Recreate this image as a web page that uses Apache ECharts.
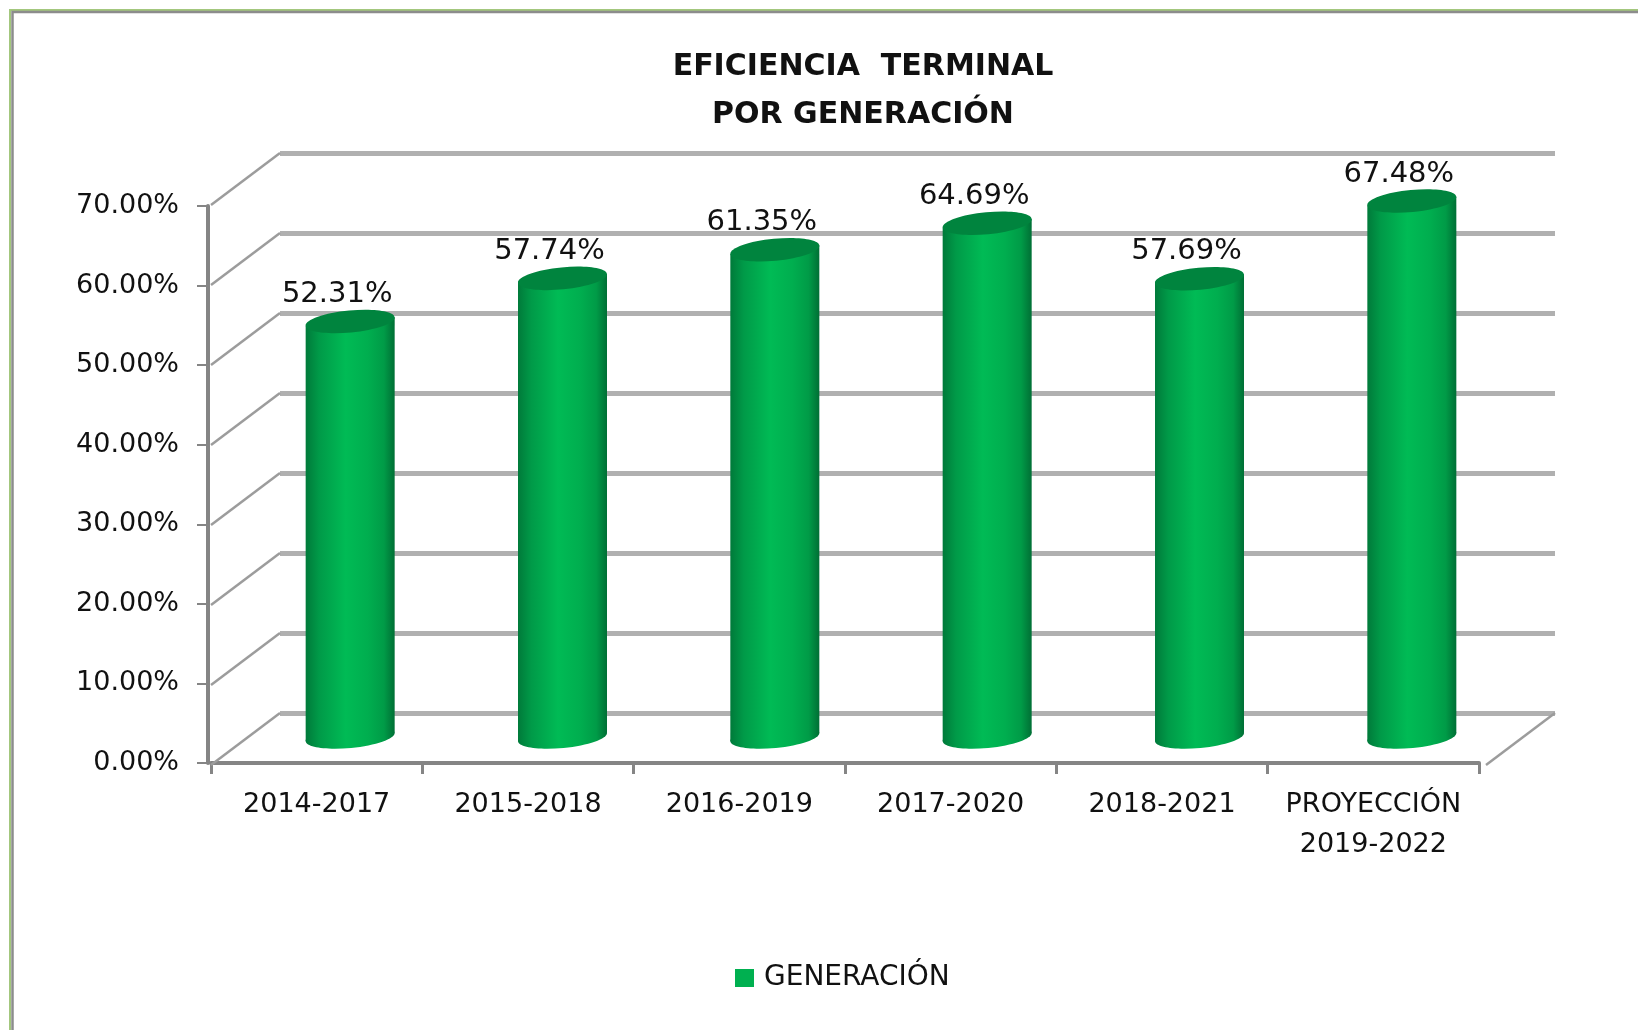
<!DOCTYPE html>
<html><head><meta charset="utf-8">
<style>html,body{margin:0;padding:0;background:#fff}#c{width:1638px;height:1030px}</style>
<script src="https://cdn.jsdelivr.net/npm/echarts@6/dist/echarts.min.js"></script>
</head><body><div id="c"></div>
<script>
const categories = ['2014-2017','2015-2018','2016-2019','2017-2020','2018-2021','PROYECCIÓN\n2019-2022'];
const seriesName = 'GENERACIÓN';
const values = [52.31,57.74,61.35,64.69,57.69,67.48];
const wallTicks = [0,10,20,30,40,50,60,70];
const titleLines = 'EFICIENCIA  TERMINAL\nPOR GENERACIÓN';

const FONT = '"DejaVu Sans"';
const DEPTH_X = 69, DEPTH_Y = 52;
const BAR_W = 89, RY = 11, TILT = 5.5 * Math.PI / 180;
const sideGrad = {type:'linear',x:0,y:0,x2:1,y2:0,colorStops:[
  {offset:0,color:'#007a3a'},{offset:.15,color:'#009a48'},{offset:.45,color:'#00bb55'},
  {offset:.7,color:'#00ae4f'},{offset:.88,color:'#009b47'},{offset:1,color:'#006f35'}]};

function renderBar(params, api){
  const cat = api.value(0), v = api.value(1);
  const top = api.coord([cat, v]), bot = api.coord([cat, 0]);
  const hw = BAR_W/2, tiltY = Math.tan(TILT)*hw;
  const body = 'M'+(top[0]-hw)+' '+(top[1]+tiltY)+' L'+(top[0]+hw)+' '+(top[1]-tiltY)+
    ' L'+(bot[0]+hw)+' '+(bot[1]-tiltY)+' L'+(bot[0]-hw)+' '+(bot[1]+tiltY)+'Z';
  const ell = (c, style) => ({type:'ellipse',
    shape:{cx:0,cy:0,rx:hw/Math.cos(TILT),ry:RY},x:c[0],y:c[1],rotation:TILT,style});
  return {type:'group',children:[
    ell(bot,{fill:sideGrad}),
    {type:'path',shape:{pathData:body,layout:'center',x:top[0]-hw,y:top[1]-tiltY,width:BAR_W,height:bot[1]-top[1]+2*tiltY},style:{fill:sideGrad}},
    ell(top,{fill:'#00843e'}),
    {type:'text',x:top[0]-13,y:top[1]-27,style:{text:v.toFixed(2)+'%',font:'29px '+FONT,fill:'#111',textAlign:'center',textVerticalAlign:'middle'}}
  ]};
}
function renderWall(params, api){
  const p = api.coord([0, api.value(0)]);
  return {type:'line',shape:{x1:p[0]-DEPTH_X,y1:p[1]+DEPTH_Y,x2:p[0],y2:p[1]},style:{stroke:'#9c9c9c',lineWidth:2.5}};
}
function renderFloorEdge(params, api){
  const p = api.coord([1, 0]);
  return {type:'line',shape:{x1:p[0]-DEPTH_X,y1:p[1]+DEPTH_Y,x2:p[0],y2:p[1]},style:{stroke:'#9c9c9c',lineWidth:2.5}};
}
const chart = echarts.init(document.getElementById('c'),null,{renderer:'canvas'});
chart.setOption({
  animation:false,backgroundColor:'#fff',
  title:{text:titleLines,left:858,top:38,textAlign:'center',
    textStyle:{fontFamily:FONT,fontWeight:'bold',fontSize:30,lineHeight:48,color:'#111'}},
  legend:{data:[seriesName],left:730,top:959,icon:'rect',itemWidth:19,itemHeight:18,itemGap:10,
    itemStyle:{color:'#00b050'},textStyle:{fontFamily:FONT,fontSize:28,color:'#111',padding:[0,0,0,5]}},
  grid:[
    {left:211,top:206,width:1268,height:557},
    {left:280,top:153,width:1275,height:560},
    {left:244,top:181,width:1274,height:556}
  ],
  xAxis:[
    {gridIndex:0,type:'category',data:categories,offset:3,
      axisLine:{lineStyle:{color:'#858585',width:4}},
      axisTick:{show:true,length:11,interval:0,lineStyle:{color:'#858585',width:3}},
      axisLabel:{interval:0,hideOverlap:false,fontFamily:FONT,fontSize:27,color:'#111',lineHeight:40,margin:19}},
    {gridIndex:1,type:'value',min:0,max:1,show:false},
    {gridIndex:2,type:'category',data:categories,show:false}
  ],
  yAxis:[
    {gridIndex:0,type:'value',min:0,max:70,interval:10,offset:3,
      axisLine:{show:true,lineStyle:{color:'#858585',width:4}},
      axisTick:{show:true,length:11,lineStyle:{color:'#858585',width:2}},
      splitLine:{show:false},
      axisLabel:{fontFamily:FONT,fontSize:27,color:'#111',margin:29,formatter:v=>v.toFixed(2)+'%'}},
    {gridIndex:1,type:'value',min:0,max:70,interval:10,
      axisLine:{show:false},axisTick:{show:false},axisLabel:{show:false},
      splitLine:{show:true,lineStyle:{color:'#b0b0b0',width:5}}},
    {gridIndex:2,type:'value',min:0,max:70,interval:10,show:false,splitLine:{show:false}}
  ],
  series:[
    {type:'custom',name:'walls',xAxisIndex:1,yAxisIndex:1,renderItem:renderWall,data:wallTicks.map(v=>[v]),encode:{y:0},silent:true,z:1},
    {type:'custom',name:'floor',xAxisIndex:1,yAxisIndex:1,renderItem:renderFloorEdge,data:[[1,0]],silent:true,z:1},
    {type:'custom',name:seriesName,xAxisIndex:2,yAxisIndex:2,renderItem:renderBar,
      itemStyle:{color:'#00b050'},data:values.map((v,i)=>[i,v]),encode:{x:0,y:1},z:3}
  ],
  graphic:[
    {type:'rect',shape:{x:10,y:10,width:1700,height:1100},style:{fill:'none',stroke:'#a3c77d',lineWidth:2},silent:true,z:10},
    {type:'rect',shape:{x:12.5,y:12,width:1700,height:1100},style:{fill:'none',stroke:'#8c8c8c',lineWidth:2.5},silent:true,z:10}
  ]
});
</script></body></html>
